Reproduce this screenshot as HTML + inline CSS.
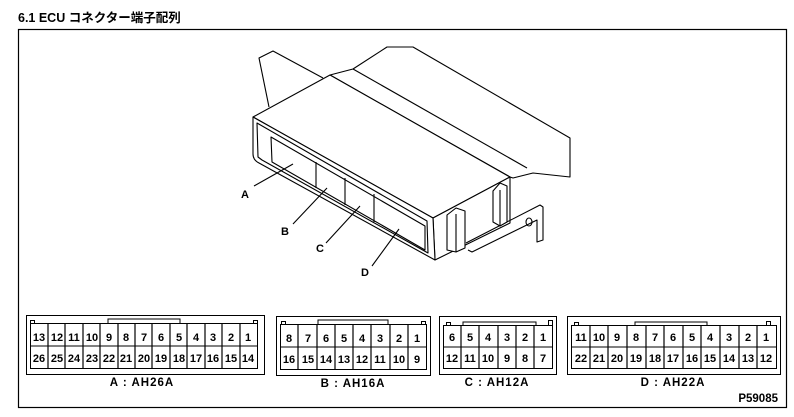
<!DOCTYPE html>
<html><head><meta charset="utf-8"><style>
body{margin:0;background:#fff;width:794px;height:417px;overflow:hidden}
svg{display:block}
text{font-family:"Liberation Sans","Noto Sans CJK JP",sans-serif;fill:#000}
</style></head><body>
<svg width="794" height="417" viewBox="0 0 794 417" xmlns="http://www.w3.org/2000/svg">
<text x="18" y="22" font-size="12.5" font-weight="bold">6.1 ECU コネクター端子配列</text>
<rect x="18.5" y="29.5" width="768" height="378" fill="none" stroke="#000" stroke-width="1.2"/>
<g fill="none" stroke="#000" stroke-width="1.1" stroke-linejoin="round">
<!-- tab -->
<polyline points="269,107 259,58 273,51 323,78"/>
<!-- back section -->
<polygon points="330,75 353,69 387,47 413,47 570,138 570,177 533,173 513,178 510,177" fill="#fff"/>
<line x1="353" y1="69" x2="527" y2="168"/>
<!-- top face -->
<polygon points="253,117 330,75 510,177 433,218" fill="#fff"/>
<!-- right face -->
<polygon points="433,218 510,177 510,223 435,260" fill="#fff"/>
<!-- front face -->
<path d="M253,117 L433,218 L435,260 L259,163 Q253,160 253,154 Z" fill="#fff"/>
<path d="M257,123 L427,221 L428,253 L262,160 L258,157 Z"/>
<polygon points="271,137 425,226 425,250 272,162"/>
<line x1="316" y1="162" x2="316" y2="188"/>
<line x1="345" y1="178" x2="345" y2="205"/>
<line x1="374" y1="194" x2="374" y2="222"/>
<!-- bracket -->
<polyline points="466,243 540,205 543,207 543,240 537,242 537,220 472,252 468,250"/>
<ellipse cx="529" cy="222" rx="3" ry="4"/>
<!-- clips -->
<polygon points="447,215 456,208 465,211 465,248 456,252 447,250" fill="#fff"/>
<line x1="456" y1="214" x2="456" y2="252"/>
<polygon points="493,191 500,183 507,186 507,222 500,226 493,222" fill="#fff"/>
<line x1="500" y1="190" x2="500" y2="226"/>
<!-- leaders -->
<line x1="254" y1="186" x2="293" y2="164"/>
<line x1="293" y1="224" x2="327" y2="188"/>
<line x1="326" y1="243" x2="360" y2="206"/>
<line x1="372" y1="266" x2="399" y2="229"/>
</g>
<g font-size="11" font-weight="bold">
<text x="241" y="198">A</text><text x="281" y="235">B</text><text x="316" y="252">C</text><text x="361" y="276">D</text>
</g>

<g fill="none" stroke="#000" stroke-width="1">
<!-- A -->
<rect x="26.5" y="315.5" width="238" height="59"/>
<rect x="30.5" y="323.5" width="227" height="45"/>
<polyline points="108,323 108,319 180,319 180,323"/>
<rect x="30.5" y="320.5" width="4" height="3"/><rect x="253.5" y="320.5" width="4" height="3"/>
<line x1="30" y1="346" x2="257" y2="346"/>
<!-- B -->
<rect x="276.5" y="316.5" width="154" height="59"/>
<rect x="280.5" y="324.5" width="146" height="45"/>
<polyline points="318,324 318,320 388,320 388,324"/>
<rect x="281.5" y="321.5" width="4" height="3"/><rect x="421.5" y="321.5" width="4" height="3"/>
<line x1="280" y1="347" x2="426" y2="347"/>
<!-- C -->
<rect x="439.5" y="316.5" width="117" height="58"/>
<rect x="443.5" y="325.5" width="109" height="43"/>
<polyline points="463,325 463,322 536,322 536,325"/>
<rect x="446.5" y="322.5" width="4" height="3"/><rect x="548.5" y="320.5" width="4" height="5"/>
<line x1="443" y1="347" x2="552" y2="347"/>
<!-- D -->
<rect x="567.5" y="316.5" width="213" height="58"/>
<rect x="571.5" y="325.5" width="205" height="43"/>
<polyline points="635,325 635,322 707,322 707,325"/>
<rect x="574.5" y="322.5" width="4" height="3"/><rect x="766.5" y="321.5" width="4" height="4"/>
<line x1="571" y1="347" x2="776" y2="347"/>
</g>
<g stroke="#000" stroke-width="1.2">
<path d="M48,324V368M65,324V368M83,324V368M100,324V368M118,324V368M135,324V368M152,324V368M170,324V368M187,324V368M205,324V368M222,324V368M240,324V368"/>
<path d="M298,325V369M317,325V369M335,325V369M353,325V369M371,325V369M390,325V369M408,325V369"/>
<path d="M461,325V368M479,325V368M498,325V368M516,325V368M534,325V368"/>
<path d="M590,325V368M608,325V368M627,325V368M646,325V368M664,325V368M683,325V368M701,325V368M720,325V368M739,325V368M757,325V368"/>
</g>
<g font-size="11" font-weight="bold" text-anchor="middle">
<text x="39" y="341">13</text><text x="57" y="341">12</text><text x="74" y="341">11</text><text x="92" y="341">10</text><text x="109" y="341">9</text><text x="126" y="341">8</text><text x="144" y="341">7</text><text x="161" y="341">6</text><text x="179" y="341">5</text><text x="196" y="341">4</text><text x="213" y="341">3</text><text x="231" y="341">2</text><text x="248" y="341">1</text>
<text x="39" y="362">26</text><text x="57" y="362">25</text><text x="74" y="362">24</text><text x="92" y="362">23</text><text x="109" y="362">22</text><text x="126" y="362">21</text><text x="144" y="362">20</text><text x="161" y="362">19</text><text x="179" y="362">18</text><text x="196" y="362">17</text><text x="213" y="362">16</text><text x="231" y="362">15</text><text x="248" y="362">14</text>
<text x="289" y="342">8</text><text x="308" y="342">7</text><text x="326" y="342">6</text><text x="344" y="342">5</text><text x="362" y="342">4</text><text x="380" y="342">3</text><text x="399" y="342">2</text><text x="417" y="342">1</text>
<text x="289" y="363">16</text><text x="308" y="363">15</text><text x="326" y="363">14</text><text x="344" y="363">13</text><text x="362" y="363">12</text><text x="380" y="363">11</text><text x="399" y="363">10</text><text x="417" y="363">9</text>
<text x="452" y="341">6</text><text x="470" y="341">5</text><text x="488" y="341">4</text><text x="507" y="341">3</text><text x="525" y="341">2</text><text x="543" y="341">1</text>
<text x="452" y="362">12</text><text x="470" y="362">11</text><text x="488" y="362">10</text><text x="507" y="362">9</text><text x="525" y="362">8</text><text x="543" y="362">7</text>
<text x="581" y="341">11</text><text x="599" y="341">10</text><text x="617" y="341">9</text><text x="636" y="341">8</text><text x="655" y="341">7</text><text x="673" y="341">6</text><text x="692" y="341">5</text><text x="710" y="341">4</text><text x="729" y="341">3</text><text x="748" y="341">2</text><text x="766" y="341">1</text>
<text x="581" y="362">22</text><text x="599" y="362">21</text><text x="617" y="362">20</text><text x="636" y="362">19</text><text x="655" y="362">18</text><text x="673" y="362">17</text><text x="692" y="362">16</text><text x="710" y="362">15</text><text x="729" y="362">14</text><text x="748" y="362">13</text><text x="766" y="362">12</text>
</g>
<g font-size="11.5" font-weight="bold" text-anchor="middle" letter-spacing="1">
<text x="142" y="386">A : AH26A</text><text x="353" y="387">B : AH16A</text><text x="497" y="386">C : AH12A</text><text x="673" y="386">D : AH22A</text>
</g>
<text x="778" y="402" font-size="11.5" font-weight="bold" text-anchor="end">P59085</text>
</svg>
</body></html>
